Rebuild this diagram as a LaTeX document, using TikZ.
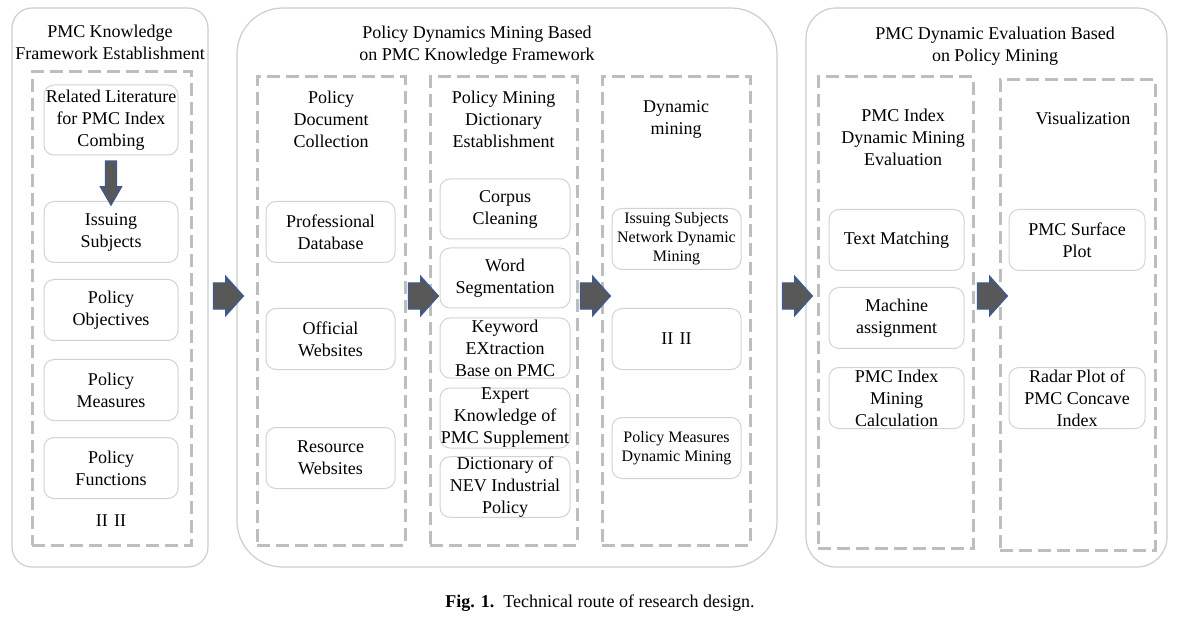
\documentclass[tikz,border=0pt]{standalone}
\usepackage{fontspec}
\setmainfont{Liberation Serif}
\usepackage{xcolor}
\usetikzlibrary{shapes,arrows,positioning,fit,backgrounds}

\definecolor{panelgray}{HTML}{CDCDCD}
\definecolor{dashgray}{HTML}{BEBEBE}
\definecolor{boxgray}{HTML}{D2D2D2}
\definecolor{arrowfill}{HTML}{585858}
\definecolor{arrowline}{HTML}{3D5A94}

\begin{document}
\begin{tikzpicture}[
    x=0.5pt, y=-0.5pt,
    font=\fontsize{9}{11}\selectfont,
    panel/.style={
        rectangle,
        draw=panelgray,
        line width=0.6pt
    },
    column/.style={
        rectangle,
        draw=dashgray,
        line width=1.5pt,
        dash pattern=on 6.5pt off 3pt
    },
    item/.style={
        rectangle,
        draw=boxgray,
        rounded corners=5pt,
        line width=0.5pt,
        text centered,
        align=center,
        inner sep=0pt,
        minimum height=30.5pt
    },
    small/.style={item, font=\fontsize{8}{9.5}\selectfont},
    heading/.style={align=center, inner sep=0pt},
    flow/.style={
        single arrow,
        draw=arrowline,
        fill=arrowfill,
        line width=0.6pt,
        inner sep=0pt,
        text height=12.5pt,
        text depth=0pt,
        minimum height=15pt,
        minimum width=19pt,
        single arrow head extend=3.25pt,
        single arrow tip angle=96,
        single arrow head indent=0pt
    },
    downflow/.style={flow, rotate=-90, text height=5pt, minimum height=22pt, minimum width=10pt,
        single arrow head extend=2.5pt, single arrow tip angle=60}
]
    \useasboundingbox (0,0) rectangle (1198,625);

    \node[panel, rounded corners=10pt, minimum width=98pt, minimum height=279.5pt] (lp) at (110,287.5) {};
    \node[panel, rounded corners=23pt, minimum width=270pt, minimum height=279.5pt] (mp) at (507,287.5) {};
    \node[panel, rounded corners=15pt, minimum width=180.5pt, minimum height=279.5pt] (rp) at (986.5,287.5) {};

    \node[heading] (lpt) at (110,42) {PMC Knowledge\\Framework Establishment};
    \node[heading] (mpt) at (477,45) {Policy Dynamics Mining Based\\on PMC Knowledge Framework};
    \node[heading] (rpt) at (995,46) {PMC Dynamic Evaluation Based\\on Policy Mining};

    \node[column, minimum width=79.5pt, minimum height=236.5pt] (colL) at (111.5,308.5) {};
    \node[column, minimum width=74pt, minimum height=234pt] (colA) at (331,311) {};
    \node[column, minimum width=73.5pt, minimum height=234pt] (colB) at (503.5,311) {};
    \node[column, minimum width=74pt, minimum height=234pt] (colC) at (676,311) {};
    \node[column, minimum width=77.5pt, minimum height=235.5pt] (colD) at (895.5,312.5) {};
    \node[column, minimum width=77.5pt, minimum height=235pt] (colE) at (1077.5,315) {};

    \node[heading] (colAt) at (331,119) {Policy\\Document\\Collection};
    \node[heading] (colBt) at (503.5,119) {Policy Mining\\Dictionary\\Establishment};
    \node[heading] (colCt) at (676,119) {Dynamic\\mining};
    \node[heading] (colDt) at (903,137) {PMC Index\\Dynamic Mining\\Evaluation};
    \node[heading] (colEt) at (1083,118) {Visualization};

    \node[item, minimum width=67pt, minimum height=35pt] (rel) at (111,120) {Related Literature\\for PMC Index\\Combing};
    \node[item, minimum width=67pt] (iss) at (111,232) {Issuing\\Subjects};
    \node[item, minimum width=67pt] (obj) at (111,310) {Policy\\Objectives};
    \node[item, minimum width=67pt] (mea) at (111,390) {Policy\\Measures};
    \node[item, minimum width=67pt] (fun) at (111,468) {Policy\\Functions};
    \node[heading] (more) at (111,521) {II\hspace{0.35em}II};

    \node[item, minimum width=64.5pt] (pro) at (330.5,232) {Professional\\Database};
    \node[item, minimum width=64.5pt] (off) at (330.5,339) {Official\\Websites};
    \node[item, minimum width=64.5pt] (res) at (330.5,458) {Resource\\Websites};

    \node[item, minimum width=65pt, minimum height=30pt] (cor) at (505,209) {Corpus\\Cleaning};
    \node[item, minimum width=65pt, minimum height=30pt] (seg) at (505,278) {Word\\Segmentation};
    \node[item, minimum width=65pt, minimum height=30pt] (key) at (505,348) {Keyword\\EXtraction\\Base on PMC};
    \node[item, minimum width=65pt, minimum height=30pt] (exp) at (505,418) {Expert\\Knowledge of\\PMC Supplement};
    \node[item, minimum width=65pt, minimum height=30pt] (dic) at (505,487) {Dictionary of\\NEV Industrial\\Policy};

    \node[small, minimum width=64.5pt] (net) at (676.5,239) {Issuing Subjects\\Network Dynamic\\Mining};
    \node[item, minimum width=64.5pt] (etc) at (676.5,339) {II\hspace{0.35em}II};
    \node[small, minimum width=64.5pt] (pmd) at (676.5,448) {Policy Measures\\Dynamic Mining};

    \node[item, minimum width=67.5pt] (txt) at (896.5,240) {Text Matching};
    \node[item, minimum width=67.5pt] (mac) at (896.5,318) {Machine\\assignment};
    \node[item, minimum width=67.5pt] (cal) at (896.5,398) {PMC Index\\Mining\\Calculation};

    \node[item, minimum width=68pt] (sur) at (1077,240) {PMC Surface\\Plot};
    \node[item, minimum width=68pt] (rad) at (1077,398) {Radar Plot of\\PMC Concave\\Index};

    \node[heading] (cap) at (600,603) {\textbf{Fig. 1.}\enspace Technical route of research design.};

    \coordinate (lvl) at (0,296);
    \path (rel.south) -- (iss.north) node[downflow, midway] (a0) {};
    \path (lp.east |- lvl) -- (mp.west |- lvl) node[flow, midway] (a1) {};
    \path (colA.east |- lvl) -- (colB.west |- lvl) node[flow, midway] (a2) {};
    \path (colB.east |- lvl) -- (colC.west |- lvl) node[flow, midway] (a3) {};
    \path (mp.east |- lvl) -- (rp.west |- lvl) node[flow, midway] (a4) {};
    \path (colD.east |- lvl) -- (colE.west |- lvl) node[flow, midway] (a5) {};
\end{tikzpicture}
\end{document}
